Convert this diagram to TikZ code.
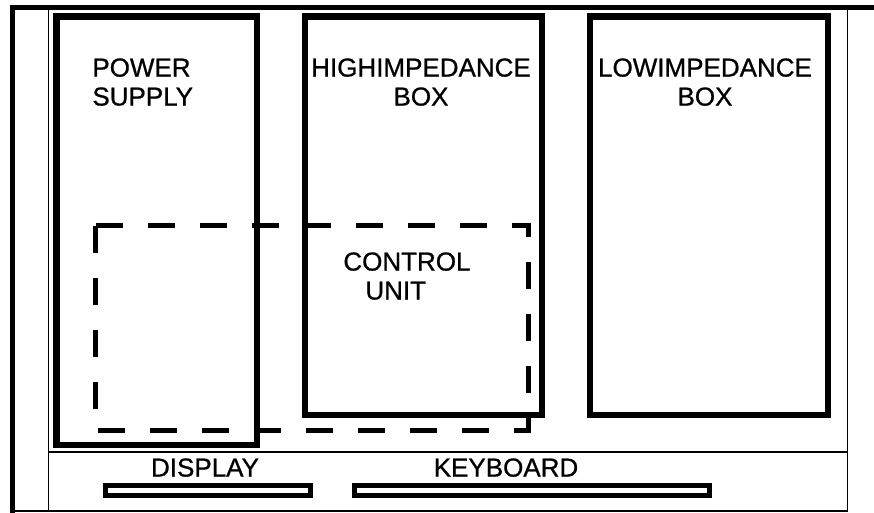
\documentclass[tikz,border=0pt]{standalone}
\usepackage{fontspec}
\setmainfont{Liberation Sans}
\newfontfamily\lblface[FakeBold=0.8]{Liberation Sans}
\usetikzlibrary{positioning}
\newcommand{\lblfont}{\lblface\fontsize{13pt}{14.5pt}\selectfont}

\begin{document}
\begin{tikzpicture}[x=0.5pt, y=-0.5pt,
  cabinet/.style={line width=2.5pt},
  thinrule/.style={line width=0.7pt},
  unitbox/.style={line width=3.25pt},
  ctrlbox/.style={line width=2.5pt, dash pattern=on 13.5pt off 12.5pt},
  barbox/.style={line width=2.5pt},
  lbl/.style={font=\lblfont, inner sep=0pt}]
  \useasboundingbox (0,0) rectangle (874,513);
  % Cabinet outline
  \draw[cabinet] (10,7.5) -- (874,7.5);
  \draw[cabinet] (12.5,5) -- (12.5,513);
  \draw[thinrule] (48.5,7.5) -- (48.5,511);
  \draw[thinrule] (847.5,7.5) -- (847.5,511);
  \draw[thinrule] (48.5,452) -- (847.5,452);
  \draw[thinrule] (12.5,511) -- (847.5,511);
  % Units
  \draw[unitbox] (56.5,16.5) rectangle (257,445);
  \draw[unitbox] (305,16.5) rectangle (542,415);
  \draw[unitbox] (590,16.5) rectangle (828,415);
  \draw[ctrlbox] (95,226) rectangle (528,431);
  % Display and keyboard bars
  \draw[barbox] (105.5,485.5) rectangle (310.5,495.5);
  \draw[barbox] (354.5,485.5) rectangle (709.5,495.5);
  % Labels
  \node[lbl, anchor=north west, align=left] (psu) at (92,58) {POWER\\SUPPLY};
  \node[lbl, anchor=north, align=center] (hibox) at (421,58) {HIGHIMPEDANCE\\BOX};
  \node[lbl, anchor=north, align=center] (lobox) at (705,58) {LOWIMPEDANCE\\BOX};
  \node[lbl, anchor=north west, align=left] (ctrl) at (343,252) {CONTROL\\\hspace*{11pt}UNIT};
  \node[lbl, anchor=north] (disp) at (205,458) {DISPLAY};
  \node[lbl, anchor=north] (keyb) at (506,458) {KEYBOARD};
\end{tikzpicture}
\end{document}
